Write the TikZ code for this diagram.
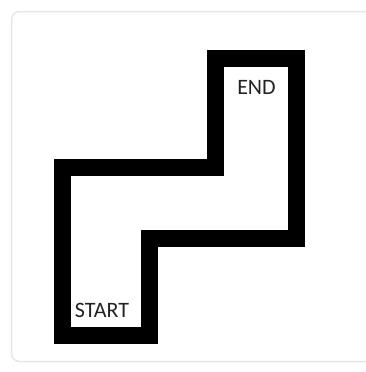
\documentclass[tikz,border=0pt]{standalone}
\usepackage{fontspec}
\setmainfont{Carlito}
\definecolor{frameGray}{HTML}{E6E6E6}
\definecolor{tagDark}{HTML}{222222}
\usetikzlibrary{positioning}

\begin{document}
\begin{tikzpicture}[
    x=1pt, y=-1pt,
    wall/.style={line width=17pt, black, line join=miter},
    boxframe/.style={draw=frameGray, line width=1.5pt, rounded corners=8pt},
    tag/.style={font=\fontsize{22}{26}\selectfont, text=tagDark, inner sep=0pt}
  ]
  \useasboundingbox (0,0) rectangle (366,372);
  \clip (0,0) rectangle (366,372);
  \draw[boxframe] (11.5,11.5) rectangle (380,361.5);
  % the staircase outline
  \coordinate (a) at (62,167);
  \coordinate (b) at (215,167);
  \coordinate (c) at (215,58);
  \coordinate (d) at (296.5,58);
  \coordinate (e) at (296.5,238);
  \coordinate (f) at (149.5,238);
  \coordinate (g) at (149.5,335);
  \coordinate (h) at (62,335);
  \draw[wall] (a) -- (b) -- (c) -- (d) -- (e) -- (f) -- (g) -- (h) -- cycle;
  \node[tag] (startlbl) at (102,310.5) {START};
  \node[tag] (endlbl) at (256.5,87.5) {END};
\end{tikzpicture}
\end{document}
